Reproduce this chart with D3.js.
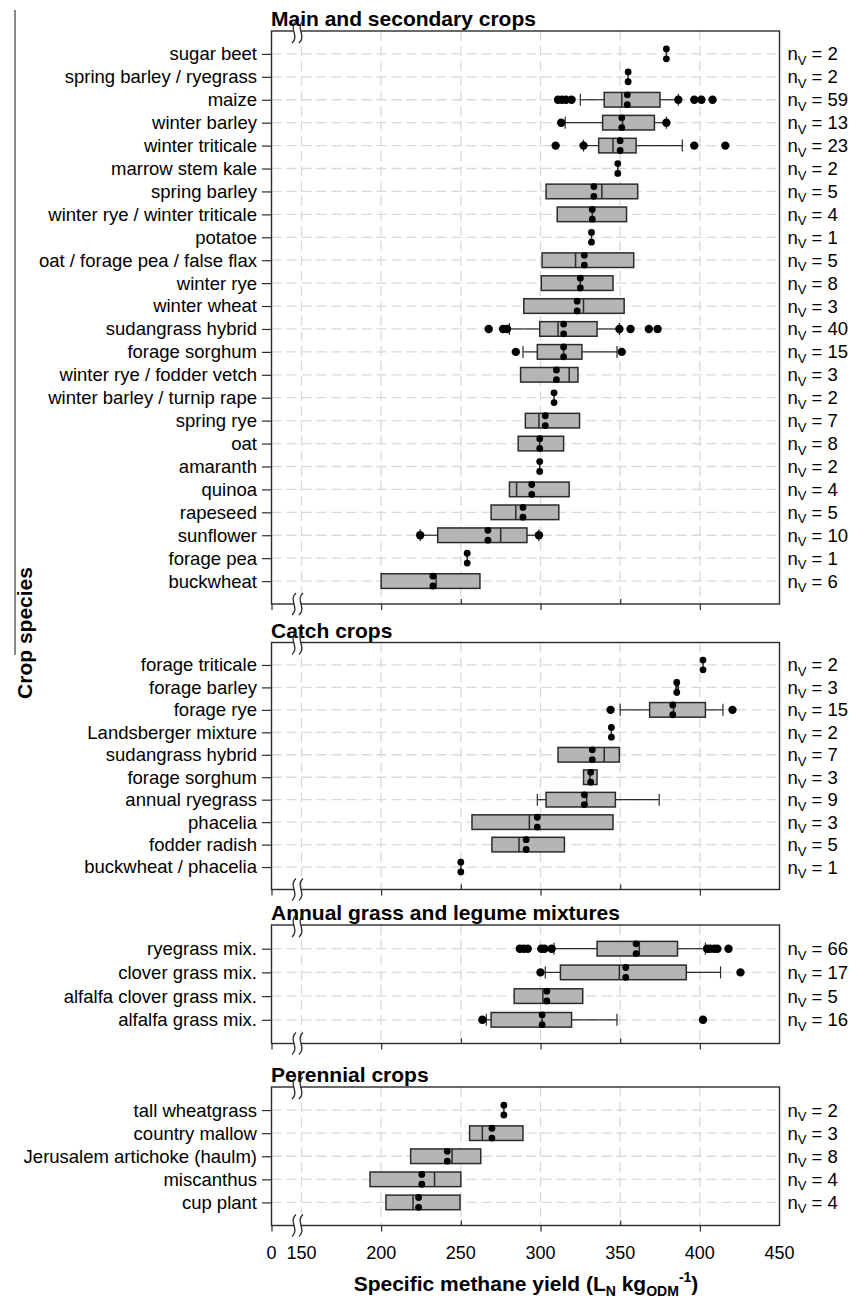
<!DOCTYPE html>
<html>
<head>
<meta charset="utf-8">
<script src="https://cdn.jsdelivr.net/npm/d3@7"></script>
<style>
  body { margin: 0; background: #fff; }
  text { font-family: "Liberation Sans", Arial, sans-serif; }
</style>
</head>
<body>
<svg id="chart" width="849" height="1303"></svg>
<script>
// ---- data (L_N kg_ODM^-1) ----
const mainCrops = ["sugar beet", "spring barley / ryegrass", "maize", "winter barley", "winter triticale",
  "marrow stem kale", "spring barley", "winter rye / winter triticale", "potatoe", "oat / forage pea / false flax",
  "winter rye", "winter wheat", "sudangrass hybrid", "forage sorghum", "winter rye / fodder vetch",
  "winter barley / turnip rape", "spring rye", "oat", "amaranth", "quinoa", "rapeseed", "sunflower",
  "forage pea", "buckwheat"];
const mainN    = [2, 2, 59, 13, 23, 2, 5, 4, 1, 5, 8, 3, 40, 15, 3, 2, 7, 8, 2, 4, 5, 10, 1, 6];
const mainQ1   = [379, 355, 340, 339, 336.5, 348.5, 303.5, 310.5, 332, 301, 300.5, 289.5, 299.5, 298, 287.5, 308.5, 290.5, 286, 299.5, 280.5, 269, 235.5, 254, 200];
const mainMed  = [379, 355, 351, 351.5, 345.5, 348.5, 338.5, 332.5, 332, 322, 325, 327, 311, 314.5, 318, 308.5, 299, 299.5, 299.5, 285, 284.5, 275, 254, 234.5];
const mainQ3   = [379, 355, 375, 371.5, 360, 348.5, 361, 354, 332, 358.5, 345.5, 352.5, 335.5, 326, 323.5, 308.5, 324.5, 314.5, 299.5, 318, 311.5, 291.5, 254, 262];
const mainMean = [379, 355, 354.5, 351, 350, 348.5, 333.5, 332.5, 332, 327.5, 325, 323, 314.5, 314.5, 310, 308.5, 303, 299.5, 299.5, 294.5, 289, 267, 254, 232.5];
const mainLo   = [null, null, 325, 315.5, 327, null, null, null, null, null, null, null, 280.5, 289, null, null, null, null, null, null, null, 224.5, null, null];
const mainHi   = [null, null, 386.5, 379, 389, null, null, null, null, null, null, null, 349.5, 348, null, null, null, null, null, null, null, 299, null, null];
const mainOut  = [[], [], [311, 313.5, 316, 319.5, 386.5, 396.5, 401, 408], [313, 379], [309.5, 327, 396.5, 416],
  [], [], [], [], [], [], [], [267.5, 276.5, 279, 349.5, 356.5, 368, 373.5], [284.5, 351],
  [], [], [], [], [], [], [], [224.5, 299], [], []];

const catchCrops = ["forage triticale", "forage barley", "forage rye", "Landsberger mixture", "sudangrass hybrid",
  "forage sorghum", "annual ryegrass", "phacelia", "fodder radish", "buckwheat / phacelia"];
const catchN    = [2, 3, 15, 2, 7, 3, 9, 3, 5, 1];
const catchQ1   = [402, 385, 368.5, 344.5, 311, 327, 303.5, 257, 269.5, 250];
const catchMed  = [402, 385.5, 383.5, 344.5, 340, 331, 329, 293, 286.5, 250];
const catchQ3   = [402, 386.5, 403.5, 344.5, 349.5, 335.5, 347, 345.5, 315, 250];
const catchMean = [402, 385.5, 383, 344.5, 332.5, 331.5, 327.5, 298, 291, 250];
const catchLo   = [null, null, 350, null, null, null, 298, null, null, null];
const catchHi   = [null, null, 414.5, null, null, null, 374.5, null, null, null];
const catchOut  = [[], [], [344, 420.5], [], [], [], [], [], [], []];

const grassMixes = ["ryegrass mix.", "clover grass mix.", "alfalfa clover grass mix.", "alfalfa grass mix."];
const grassN    = [66, 17, 5, 16];
const grassQ1   = [335.5, 312.5, 283.5, 269];
const grassMed  = [362, 349.5, 301.5, 301];
const grassQ3   = [386, 391.5, 326.5, 319.5];
const grassMean = [360, 353.5, 304, 301];
const grassLo   = [308.5, 303, null, 266];
const grassHi   = [403.5, 413, null, 348];
const grassOut  = [[287, 289.5, 292, 300.5, 302.5, 307, 404.5, 406.5, 409, 411, 418], [300, 425.5], [], [263.5, 402]];

const perennials = ["tall wheatgrass", "country mallow", "Jerusalem artichoke (haulm)", "miscanthus", "cup plant"];
const perenN    = [2, 3, 8, 4, 4];
const perenQ1   = [277, 255.5, 218.5, 193, 203];
const perenMed  = [277, 263.5, 244.5, 233.5, 220];
const perenQ3   = [277, 289, 262.5, 250, 249.5];
const perenMean = [277, 269.5, 241.5, 225.5, 223.5];
const perenLo   = [null, null, null, null, null];
const perenHi   = [null, null, null, null, null];
const perenOut  = [[], [], [], [], []];

const xTicks = [0, 150, 200, 250, 300, 350, 400, 450];
const xGrid  = [150, 200, 250, 300, 350, 400];

function rows(names, n, q1, med, q3, mean, lo, hi, out) {
  return names.map((name, i) => ({name, n: n[i], q1: q1[i], med: med[i], q3: q3[i],
    mean: mean[i], lo: lo[i], hi: hi[i], out: out[i]}));
}

const panels = [
  {title: "Main and secondary crops", top: 31, bottom: 604,
   data: rows(mainCrops, mainN, mainQ1, mainMed, mainQ3, mainMean, mainLo, mainHi, mainOut)},
  {title: "Catch crops", top: 642.5, bottom: 889.5,
   data: rows(catchCrops, catchN, catchQ1, catchMed, catchQ3, catchMean, catchLo, catchHi, catchOut)},
  {title: "Annual grass and legume mixtures", top: 925, bottom: 1043.5,
   data: rows(grassMixes, grassN, grassQ1, grassMed, grassQ3, grassMean, grassLo, grassHi, grassOut)},
  {title: "Perennial crops", top: 1087, bottom: 1225.5,
   data: rows(perennials, perenN, perenQ1, perenMed, perenQ3, perenMean, perenLo, perenHi, perenOut)}
];

const svg = d3.select("#chart");
const left = 271.5, right = 779.5;
// broken axis: 0 sits at the frame, 150..450 linear
const x = d3.scaleLinear().domain([0, 150, 450]).range([left, 301.5, right]);

const boxH = 7.3, capH = 6, ink = "#2b2b2b";

// stray rule at the far left
svg.append("line").attr("x1", 15).attr("x2", 15).attr("y1", 10).attr("y2", 655)
  .attr("stroke", "#888").attr("stroke-width", 2);

svg.append("text").attr("transform", "translate(32,633) rotate(-90)")
  .attr("text-anchor", "middle").attr("font-size", 21).attr("font-weight", "bold")
  .text("Crop species");

function breakMark(g, y) {
  const xs = [294, 301];
  const s = (x0) => `M${x0 + 2},${y - 11} C${x0 - 6},${y - 4} ${x0 + 6},${y + 4} ${x0 - 2},${y + 11}`;
  g.append("path")
    .attr("d", `M${xs[0] - 1},${y - 3} L${xs[1] - 1},${y - 3} L${xs[1] + 1},${y + 3} L${xs[0] + 1},${y + 3} Z`)
    .attr("fill", "#fff");
  xs.forEach(x0 => g.append("path").attr("d", s(x0)).attr("fill", "none")
    .attr("stroke", ink).attr("stroke-width", 1.3));
}

panels.forEach((p, pi) => {
  const g = svg.append("g");
  const y = d3.scalePoint().domain(p.data.map(d => d.name)).range([p.top, p.bottom]).padding(1);

  // grid
  g.selectAll(".hg").data(p.data).join("line")
    .attr("x1", left).attr("x2", right)
    .attr("y1", d => y(d.name)).attr("y2", d => y(d.name))
    .attr("stroke", "#d9d9d9").attr("stroke-width", 1.3).attr("stroke-dasharray", "10,5");
  g.selectAll(".vg").data(xGrid).join("line")
    .attr("x1", d => x(d)).attr("x2", d => x(d))
    .attr("y1", p.top).attr("y2", p.bottom)
    .attr("stroke", "#d9d9d9").attr("stroke-width", 1.3).attr("stroke-dasharray", "10,5");

  // frame
  g.append("rect").attr("x", left).attr("y", p.top)
    .attr("width", right - left).attr("height", p.bottom - p.top)
    .attr("fill", "none").attr("stroke", ink).attr("stroke-width", 1.4);

  // y axis with crop names
  const ya = g.append("g").attr("transform", `translate(${left},0)`)
    .call(d3.axisLeft(y).tickSize(9.5).tickPadding(5));
  ya.select(".domain").remove();
  ya.selectAll("line").attr("stroke", ink).attr("stroke-width", 1.2);
  ya.selectAll("text").attr("font-size", 18.5).attr("fill", "#000")
    .style("font-family", '"Liberation Sans", Arial, sans-serif');

  // x axis ticks (outward major, inward minor)
  const xa = g.append("g").attr("transform", `translate(0,${p.bottom})`)
    .call(d3.axisBottom(x).tickValues([0, 200, 300, 400]).tickSize(6).tickFormat(""));
  xa.select(".domain").remove();
  xa.selectAll("line").attr("stroke", ink).attr("stroke-width", 1.2);
  const xm = g.append("g").attr("transform", `translate(0,${p.bottom})`)
    .call(d3.axisBottom(x).tickValues([250, 350]).tickSize(-5).tickFormat(""));
  xm.select(".domain").remove();
  xm.selectAll("line").attr("stroke", ink).attr("stroke-width", 1.2);

  // boxes
  const row = g.selectAll(".row").data(p.data).join("g")
    .attr("transform", d => `translate(0,${y(d.name)})`);

  row.filter(d => d.lo != null).each(function (d) {
    const r = d3.select(this);
    r.append("line").attr("x1", x(d.lo)).attr("x2", x(d.q1)).attr("stroke", ink).attr("stroke-width", 1.2);
    r.append("line").attr("x1", x(d.lo)).attr("x2", x(d.lo)).attr("y1", -capH).attr("y2", capH)
      .attr("stroke", ink).attr("stroke-width", 1.2);
  });
  row.filter(d => d.hi != null).each(function (d) {
    const r = d3.select(this);
    r.append("line").attr("x1", x(d.q3)).attr("x2", x(d.hi)).attr("stroke", ink).attr("stroke-width", 1.2);
    r.append("line").attr("x1", x(d.hi)).attr("x2", x(d.hi)).attr("y1", -capH).attr("y2", capH)
      .attr("stroke", ink).attr("stroke-width", 1.2);
  });

  row.append("rect")
    .attr("x", d => x(d.q1)).attr("width", d => x(d.q3) - x(d.q1))
    .attr("y", -boxH).attr("height", 2 * boxH)
    .attr("fill", "#b5b5b5").attr("stroke", ink).attr("stroke-width", 1.5);
  row.append("line")
    .attr("x1", d => x(d.med)).attr("x2", d => x(d.med))
    .attr("y1", -boxH).attr("y2", boxH)
    .attr("stroke", ink).attr("stroke-width", 1.5);

  row.selectAll(".out").data(d => d.out).join("circle")
    .attr("cx", d => x(d)).attr("cy", 0).attr("r", 4.2).attr("fill", "#000");
  row.selectAll(".mean").data(d => [-4.9, 4.9].map(o => ({v: d.mean, o}))).join("circle")
    .attr("cx", d => x(d.v)).attr("cy", d => d.o).attr("r", 3.4).attr("fill", "#000");

  // n labels
  const nl = row.append("text").attr("x", right + 8).attr("y", 6.5)
    .attr("font-size", 18.5).attr("fill", "#000");
  nl.append("tspan").text("n");
  nl.append("tspan").attr("dy", 4.5).attr("font-size", 13).text("V");
  nl.append("tspan").attr("dy", -4.5).text(d => " = " + d.n);

  // title + breaks
  svg.append("text").attr("x", left - 0.5).attr("y", p.top - 5)
    .attr("font-size", 21).attr("font-weight", "bold").text(p.title);
  breakMark(svg, p.top + 1);
  breakMark(svg, p.bottom);
});

// bottom tick labels and axis title
const last = panels[panels.length - 1];
svg.append("g").selectAll("text").data(xTicks).join("text")
  .attr("x", d => x(d)).attr("y", last.bottom + 33)
  .attr("text-anchor", "middle").attr("font-size", 18).text(d => d);

const t = svg.append("text").attr("x", 526).attr("y", 1291)
  .attr("text-anchor", "middle").attr("font-size", 21).attr("font-weight", "bold");
t.append("tspan").text("Specific methane yield (L");
t.append("tspan").attr("font-size", 14).attr("dy", 5).text("N");
t.append("tspan").attr("dy", -5).text(" kg");
t.append("tspan").attr("font-size", 14).attr("dy", 5).text("ODM");
t.append("tspan").attr("font-size", 14).attr("dy", -14).text("-1");
t.append("tspan").attr("dy", 9).text(")");
</script>
</body>
</html>
